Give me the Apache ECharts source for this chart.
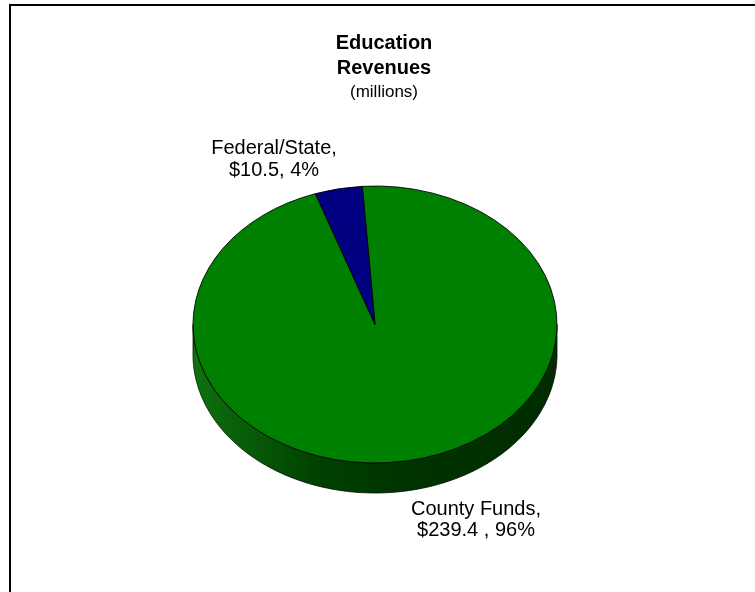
<!DOCTYPE html>
<html>
<head>
<meta charset="utf-8">
<script src="https://cdn.jsdelivr.net/npm/echarts@6/dist/echarts.min.js"></script>
<style>
html,body{margin:0;padding:0;background:#fff;}
#chart{width:755px;height:592px;}
</style>
</head>
<body>
<div id="chart"></div>
<script>
// ---- data ----
var categories = ['County Funds', 'Federal/State'];
var values = [239.4, 10.5];
var valueLabels = ['$239.4 ', '$10.5'];
var colors = ['#008000', '#000080'];
var sideColors = [
  [[0, '#0f720f'], [0.12, '#086008'], [0.35, '#004000'], [0.6, '#003300'], [1, '#002c00']],
  [[0, '#000060'], [1, '#000030']]
];
var titleLines = ['Education', 'Revenues'];
var subTitle = '(millions)';

// ---- layout ----
var CX = 375, CY = 324.5, RX = 182, RY = 138.5, DEPTH = 30;
var START = -94 * Math.PI / 180;
var FONT = '"Liberation Sans", Arial, sans-serif';

var total = values.reduce(function (a, b) { return a + b; }, 0);
var cum = [];
(function () { var c = 0; values.forEach(function (v) { cum.push(c); c += v; }); })();

function pct(v) { return Math.round(v / total * 100) + '%'; }

function renderItem(params, api) {
  var i = params.dataIndex;
  var v = api.value(0);
  var a0 = START + cum[i] / total * Math.PI * 2;
  var a1 = a0 + v / total * Math.PI * 2;
  var children = [];
  // side (front half only)
  for (var k = -1; k <= 2; k++) {
    var lo = Math.max(a0, 2 * Math.PI * k);
    var hi = Math.min(a1, 2 * Math.PI * k + Math.PI);
    if (hi > lo) {
      var pts = [];
      var n = Math.max(2, Math.ceil((hi - lo) / (Math.PI / 180)));
      for (var s = 0; s <= n; s++) {
        var t = lo + (hi - lo) * s / n;
        pts.push([CX + RX * Math.cos(t), CY + RY * Math.sin(t)]);
      }
      for (var s2 = n; s2 >= 0; s2--) {
        var t2 = lo + (hi - lo) * s2 / n;
        pts.push([CX + RX * Math.cos(t2), CY + DEPTH + RY * Math.sin(t2)]);
      }
      children.push({
        type: 'polygon',
        z2: 1,
        shape: { points: pts },
        style: {
          fill: {
            type: 'linear', x: CX - RX, y: 0, x2: CX + RX, y2: 0, global: true,
            colorStops: sideColors[i].map(function (c) { return { offset: c[0], color: c[1] }; })
          },
          stroke: '#001400',
          lineWidth: 0.8
        }
      });
    }
  }
  // top face
  children.push({
    type: 'sector',
    z2: 10,
    shape: { cx: CX, cy: CY, r0: 0, r: RX, startAngle: a0, endAngle: a1, clockwise: true },
    scaleY: RY / RX,
    originX: CX,
    originY: CY,
    style: { fill: colors[i], stroke: '#000', lineWidth: 1, strokeNoScale: true }
  });
  return { type: 'group', children: children };
}

var labelPos = [
  { x: 476, y: 520 },
  { x: 274, y: 159.5 }
];

var graphics = [
  {
    type: 'rect', z: 0, silent: true,
    shape: { x: 10, y: 5, width: 900, height: 800 },
    style: { fill: 'none', stroke: '#000', lineWidth: 2 }
  },
  {
    type: 'text', z: 10, x: 384, y: 43.7,
    style: { text: titleLines[0], font: 'bold 20px ' + FONT, fill: '#000', align: 'center', verticalAlign: 'middle' }
  },
  {
    type: 'text', z: 10, x: 384, y: 68.3,
    style: { text: titleLines[1], font: 'bold 20px ' + FONT, fill: '#000', align: 'center', verticalAlign: 'middle' }
  },
  {
    type: 'text', z: 10, x: 384, y: 92,
    style: { text: subTitle, font: '17px ' + FONT, fill: '#000', align: 'center', verticalAlign: 'middle' }
  }
];
categories.forEach(function (c, i) {
  graphics.push({
    type: 'text', z: 10, x: labelPos[i].x, y: labelPos[i].y,
    style: {
      text: c + ',\n' + valueLabels[i] + ', ' + pct(values[i]),
      font: '20px ' + FONT, fill: '#000', align: 'center', verticalAlign: 'middle',
      lineHeight: 21.5
    }
  });
});

var chart = echarts.init(document.getElementById('chart'), null, { renderer: 'canvas' });
chart.setOption({
  animation: false,
  backgroundColor: '#fff',
  graphic: graphics,
  series: [{
    type: 'custom',
    coordinateSystem: 'none',
    renderItem: renderItem,
    data: values.map(function (v, i) { return { name: categories[i], value: [v] }; })
  }]
});
</script>
</body>
</html>
